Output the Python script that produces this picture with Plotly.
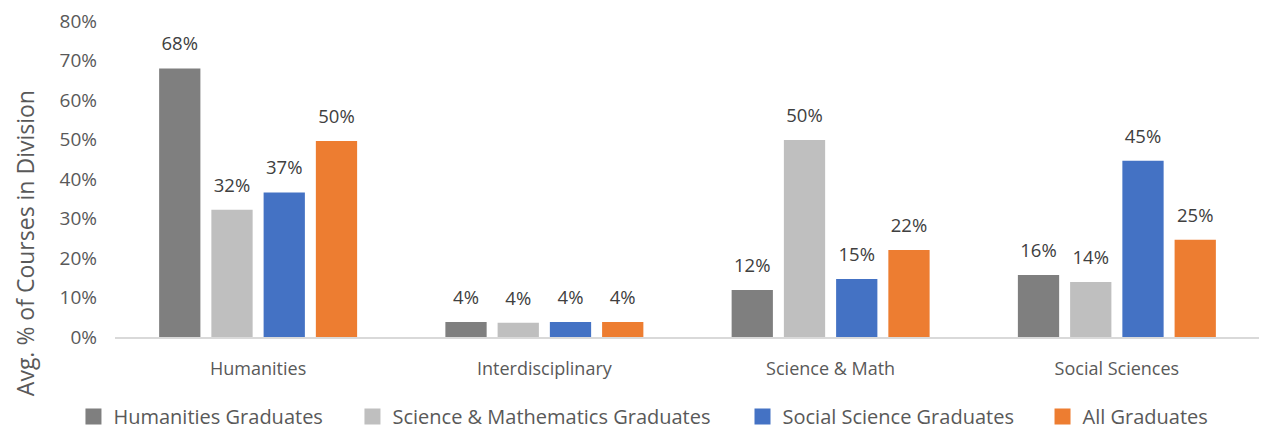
import plotly.graph_objects as go

categories = ['Humanities', 'Interdisciplinary', 'Science & Math', 'Social Sciences']
series_names = ['Humanities Graduates', 'Science & Mathematics Graduates',
                'Social Science Graduates', 'All Graduates']
humanities_grads = [0.68, 0.038, 0.119, 0.157]
science_grads = [0.322, 0.036, 0.499, 0.139]
social_grads = [0.366, 0.038, 0.147, 0.446]
all_grads = [0.496, 0.038, 0.22, 0.246]
y_ticks = [0, 0.1, 0.2, 0.3, 0.4, 0.5, 0.6, 0.7, 0.8]

colors = ['#7f7f7f', '#bfbfbf', '#4472c4', '#ed7d31']
font_family = 'Open Sans'
legend_x = [0.052, 0.2736, 0.5834, 0.8217]  # one small legend per series

fig = go.Figure()
series = [humanities_grads, science_grads, social_grads, all_grads]
for i, (name, vals, col) in enumerate(zip(series_names, series, colors)):
    fig.add_trace(go.Bar(
        x=categories, y=vals, name=name,
        marker_color=col, marker_line_width=0,
        showlegend=False, offsetgroup=str(i),
    ))
# value labels, grouped the same way as the bars but lifted a bit
for i, vals in enumerate(series):
    fig.add_trace(go.Scatter(
        x=categories, y=vals, mode='markers+text',
        text=[f'{v:.0%}' for v in vals], textposition='top center',
        textfont=dict(size=18.5, color='#404040', family=font_family),
        marker=dict(size=20, opacity=0), offsetgroup=str(i),
        showlegend=False, hoverinfo='skip', cliponaxis=False,
    ))
# legend entries
for i, (name, col) in enumerate(zip(series_names, colors)):
    lg = 'legend' if i == 0 else f'legend{i+1}'
    fig.add_trace(go.Scatter(
        x=[None], y=[None], mode='markers', name=name,
        marker=dict(symbol='square', size=16, color=col),
        legend=lg,
    ))

legend_style = dict(
    orientation='h', xref='container', yref='container',
    xanchor='left', yanchor='middle', y=0.032,
    font=dict(size=20), itemwidth=30, bgcolor='rgba(0,0,0,0)',
)
legends = {}
for i in range(4):
    key = 'legend' if i == 0 else f'legend{i+1}'
    legends[key] = dict(legend_style, x=legend_x[i])

fig.update_layout(
    width=1259, height=422,
    margin=dict(l=107, r=7, t=13, b=93, autoexpand=False),
    paper_bgcolor='white', plot_bgcolor='white',
    barmode='group', bargap=0.27, bargroupgap=0.21,
    scattermode='group', scattergap=0.27,
    font=dict(family=font_family, color='#595959', size=18),
    yaxis=dict(
        range=[0, 0.8], tickvals=y_ticks, tickformat='.0%',
        showgrid=False, zeroline=False, showline=False, automargin=False,
        ticks='', ticklabelstandoff=17, tickfont=dict(size=19),
        ticklabeloverflow='allow',
    ),
    xaxis=dict(
        showgrid=False, showline=True, linecolor='#d9d9d9', linewidth=2,
        ticks='', tickfont=dict(size=18), ticklabelstandoff=14, automargin=False,
    ),
    annotations=[dict(
        text='Avg. % of Courses in Division', textangle=-90,
        xref='paper', yref='paper', x=-0.0786, y=0.297,
        xanchor='center', yanchor='middle', showarrow=False,
        font=dict(size=23, color='#595959'),
    )],
    **legends,
)

fig.write_html("out.html")
